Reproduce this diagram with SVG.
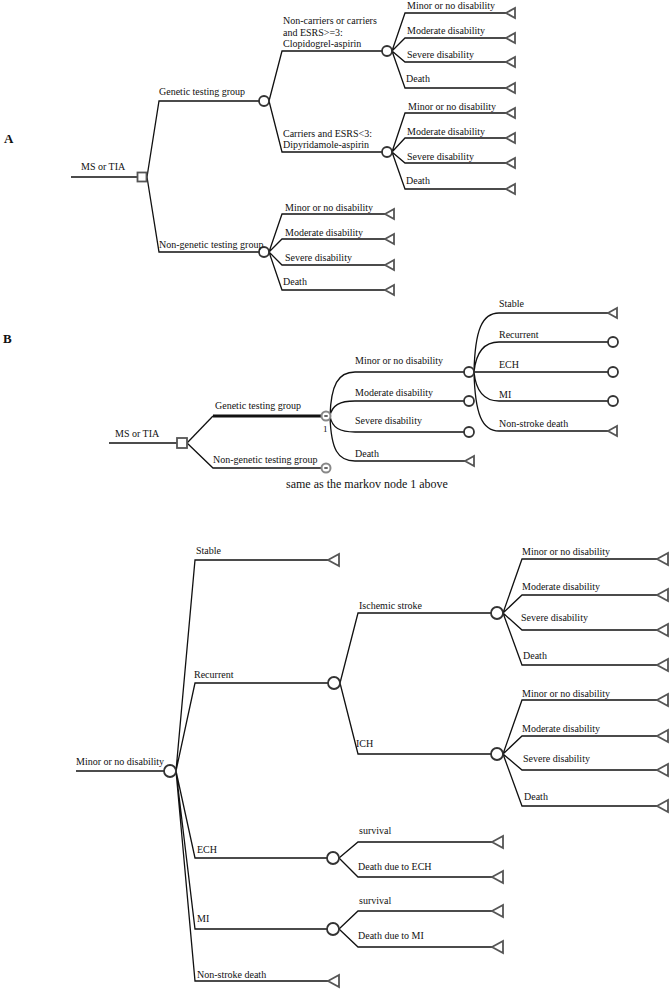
<svg xmlns="http://www.w3.org/2000/svg" xmlns:xlink="http://www.w3.org/1999/xlink" width="670" height="991" viewBox="0 0 670 991">
<style>
text{font-family:"Liberation Serif","Times New Roman",serif;font-size:10px;fill:#111}
.hd{font-size:13px;font-weight:bold}
.big{font-size:12px}
.sm{font-size:9px}
.ln{fill:none;stroke:#111;stroke-width:1.3}
.thick{fill:none;stroke:#111;stroke-width:3}
.ch{fill:#fff;stroke:#333;stroke-width:1.8}
.term{fill:#fff;stroke:#555;stroke-width:1.8;stroke-linejoin:miter}
.dec{fill:#fff;stroke:#555;stroke-width:1.8}
.mk{fill:#fff;stroke:#888;stroke-width:2}
.mkin{fill:#666}
</style>
<defs>
<path id="tri" d="M0,0 L9,-5 L9,5 Z" class="term"/>
<path id="tri2" d="M0,0 L11,-6 L11,6 Z" class="term"/>
</defs>
<g id="connectors">
<!-- A -->
<path class="ln" d="M71,177 H137"/>
<path class="ln" d="M147,177 L159,101 H259 M147,177 L159,252 H259"/>
<path class="ln" d="M269,101 L282,51 H382 M269,101 L282,152 H382"/>
<path class="ln" d="M392,51 L405,13 H506 M392,51 L405,38 H506 M392,51 L405,62 H506 M392,51 L405,88 H506"/>
<path class="ln" d="M392,152 L405,113 H506 M392,152 L405,138 H506 M392,152 L405,163 H506 M392,152 L405,189 H506"/>
<path class="ln" d="M269,252 L282,214 H385 M269,252 L282,239 H385 M269,252 L282,265 H385 M269,252 L282,290 H385"/>
<!-- B -->
<path class="ln" d="M109,443 H177"/>
<path class="ln" d="M187,443 L213,416"/>
<path class="thick" d="M213,416 H321"/>
<path class="ln" d="M187,443 L213,468 H321"/>
<path class="ln" d="M330,416 C331,385 338,372 355,372 H464 M330,416 C332,405 340,401 355,401 H464 M330,416 C332,428 340,432 355,432 H464 M330,416 C331,450 338,461 355,461 H465"/>
<path class="ln" d="M474,372 C475,330 482,313 499,313 H608 M474,372 C476,352 484,342 499,342 H608 M474,372 H608 M474,372 C476,392 484,401 499,401 H608 M474,372 C475,414 482,431 499,431 H608"/>
<!-- C -->
<path class="ln" d="M76,771 H164"/>
<path class="ln" d="M176,771 L195,560 H328 M176,771 L195,683 H328 M176,771 L195,858 H327 M176,771 L195,929 H327 M176,771 L195,981 H328"/>
<path class="ln" d="M340,683 L358,613 H491 M340,683 L358,754 H491"/>
<path class="ln" d="M503,613 L522,559 H657 M503,613 L522,595 H657 M503,613 L522,630 H657 M503,613 L522,665 H657"/>
<path class="ln" d="M503,754 L522,700 H657 M503,754 L522,736 H657 M503,754 L522,770 H657 M503,754 L522,806 H657"/>
<path class="ln" d="M339,858 L358,842 H492 M339,858 L358,877 H492"/>
<path class="ln" d="M339,929 L358,911 H492 M339,929 L358,947 H492"/>
</g>
<g id="labels">
<text class="hd" x="4" y="143">A</text>
<text class="hd" x="3" y="343">B</text>
</g>
<!-- Section A nodes -->
<g id="a-root"><rect class="dec" x="137.5" y="172.5" width="9" height="9"/><text x="81" y="170">MS or TIA</text></g>
<g id="a-genetic"><circle class="ch" cx="264" cy="101" r="5"/><text x="159" y="95">Genetic testing group</text></g>
<g id="a-nongenetic"><circle class="ch" cx="264" cy="252" r="5"/><text x="159" y="248">Non-genetic testing group</text></g>
<g id="a-clop"><circle class="ch" cx="387" cy="51" r="5"/><text x="283" y="24">Non-carriers or carriers</text><text x="283" y="35.5">and ESRS&gt;=3:</text><text x="283" y="47">Clopidogrel-aspirin</text></g>
<g id="a-dipy"><circle class="ch" cx="387" cy="152" r="5"/><text x="283" y="137">Carriers and ESRS&lt;3:</text><text x="283" y="148">Dipyridamole-aspirin</text></g>
<g id="a-clop-minor"><use xlink:href="#tri" x="506" y="13"/><text x="407" y="9">Minor or no disability</text></g>
<g id="a-clop-mod"><use xlink:href="#tri" x="506" y="38"/><text x="407" y="34">Moderate disability</text></g>
<g id="a-clop-sev"><use xlink:href="#tri" x="506" y="62"/><text x="407" y="58">Severe disability</text></g>
<g id="a-clop-death"><use xlink:href="#tri" x="506" y="88"/><text x="406" y="82">Death</text></g>
<g id="a-dipy-minor"><use xlink:href="#tri" x="506" y="113"/><text x="408" y="110">Minor or no disability</text></g>
<g id="a-dipy-mod"><use xlink:href="#tri" x="506" y="138"/><text x="407" y="135">Moderate disability</text></g>
<g id="a-dipy-sev"><use xlink:href="#tri" x="506" y="163"/><text x="407" y="160">Severe disability</text></g>
<g id="a-dipy-death"><use xlink:href="#tri" x="506" y="189"/><text x="406" y="184">Death</text></g>
<g id="a-ng-minor"><use xlink:href="#tri" x="385" y="214"/><text x="285" y="211">Minor or no disability</text></g>
<g id="a-ng-mod"><use xlink:href="#tri" x="385" y="239"/><text x="285" y="236">Moderate disability</text></g>
<g id="a-ng-sev"><use xlink:href="#tri" x="385" y="265"/><text x="285" y="261">Severe disability</text></g>
<g id="a-ng-death"><use xlink:href="#tri" x="385" y="290"/><text x="283" y="285">Death</text></g>
<!-- Section B nodes -->
<g id="b-root"><rect class="dec" x="177" y="438" width="10" height="10"/><text x="115" y="437">MS or TIA</text></g>
<g id="b-genetic"><circle class="mk" cx="326" cy="416" r="4.5"/><rect class="mkin" x="324.3" y="415" width="3.4" height="2"/><text x="215" y="409">Genetic testing group</text><text class="sm" x="323" y="432">1</text></g>
<g id="b-nongenetic"><circle class="mk" cx="326" cy="468" r="4.5"/><rect class="mkin" x="324.3" y="467" width="3.4" height="2"/><text x="213" y="463">Non-genetic testing group</text><text class="big" x="286" y="488">same as the markov node 1 above</text></g>
<g id="b-minor"><circle class="ch" cx="469" cy="372" r="5"/><text x="355" y="364">Minor or no disability</text></g>
<g id="b-mod"><circle class="ch" cx="469" cy="401" r="5"/><text x="355" y="396">Moderate disability</text></g>
<g id="b-sev"><circle class="ch" cx="469" cy="432" r="5"/><text x="355" y="424">Severe disability</text></g>
<g id="b-death"><use xlink:href="#tri" x="465" y="461"/><text x="355" y="457">Death</text></g>
<g id="b-stable"><use xlink:href="#tri" x="608" y="313"/><text x="499" y="307">Stable</text></g>
<g id="b-recurrent"><circle class="ch" cx="613" cy="342" r="5"/><text x="499" y="338">Recurrent</text></g>
<g id="b-ech"><circle class="ch" cx="613" cy="372" r="5"/><text x="499" y="368">ECH</text></g>
<g id="b-mi"><circle class="ch" cx="613" cy="401" r="5"/><text x="499" y="398">MI</text></g>
<g id="b-nsd"><use xlink:href="#tri" x="608" y="431"/><text x="499" y="427">Non-stroke death</text></g>
<!-- Section C nodes -->
<g id="c-root"><circle class="ch" cx="170" cy="771" r="6"/><text x="76" y="765">Minor or no disability</text></g>
<g id="c-stable"><use xlink:href="#tri2" x="328" y="560"/><text x="196" y="554">Stable</text></g>
<g id="c-recurrent"><circle class="ch" cx="334" cy="683" r="6"/><text x="194" y="678">Recurrent</text></g>
<g id="c-ech"><circle class="ch" cx="333" cy="858" r="6"/><text x="197" y="853">ECH</text></g>
<g id="c-mi"><circle class="ch" cx="333" cy="929" r="6"/><text x="197" y="922">MI</text></g>
<g id="c-nsd"><use xlink:href="#tri2" x="328" y="981"/><text x="197" y="978">Non-stroke death</text></g>
<g id="c-is"><circle class="ch" cx="497" cy="613" r="6"/><text x="359" y="609">Ischemic stroke</text></g>
<g id="c-ich"><circle class="ch" cx="497" cy="754" r="6"/><text x="356" y="747">ICH</text></g>
<g id="c-is-minor"><use xlink:href="#tri2" x="657" y="559"/><text x="522" y="555">Minor or no disability</text></g>
<g id="c-is-mod"><use xlink:href="#tri2" x="657" y="595"/><text x="522" y="590">Moderate disability</text></g>
<g id="c-is-sev"><use xlink:href="#tri2" x="657" y="630"/><text x="521" y="621">Severe disability</text></g>
<g id="c-is-death"><use xlink:href="#tri2" x="657" y="665"/><text x="523" y="659">Death</text></g>
<g id="c-ich-minor"><use xlink:href="#tri2" x="657" y="700"/><text x="522" y="697">Minor or no disability</text></g>
<g id="c-ich-mod"><use xlink:href="#tri2" x="657" y="736"/><text x="522" y="732">Moderate disability</text></g>
<g id="c-ich-sev"><use xlink:href="#tri2" x="657" y="770"/><text x="523" y="762">Severe disability</text></g>
<g id="c-ich-death"><use xlink:href="#tri2" x="657" y="806"/><text x="524" y="800">Death</text></g>
<g id="c-ech-surv"><use xlink:href="#tri2" x="492" y="842"/><text x="359" y="834">survival</text></g>
<g id="c-ech-death"><use xlink:href="#tri2" x="492" y="877"/><text x="358" y="870">Death due to ECH</text></g>
<g id="c-mi-surv"><use xlink:href="#tri2" x="492" y="911"/><text x="359" y="904">survival</text></g>
<g id="c-mi-death"><use xlink:href="#tri2" x="492" y="947"/><text x="358" y="939">Death due to MI</text></g>
</svg>
